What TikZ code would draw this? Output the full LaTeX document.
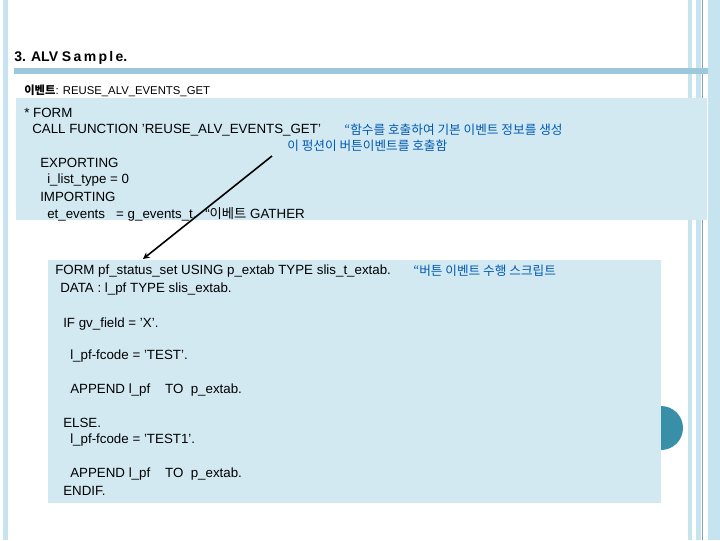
\documentclass[tikz,border=0pt]{standalone}
\usepackage{fontspec}
\setmainfont{Liberation Sans}
\newfontfamily\kr{Noto Sans CJK KR}
\newcommand\q{\char"27\relax}
\definecolor{dot}{RGB}{58,143,168}
\begin{document}
\begin{tikzpicture}[x=0.75pt,y=-0.75pt,
  txt/.style={anchor=west,inner sep=0pt,font=\fontsize{10}{11}\selectfont},
  kit/.style={txt,text=blue!50!cyan!70!black,font=\fontsize{9.5}{11}\kr\itshape}]
\useasboundingbox (0,0) rectangle (720,540);
\fill[white] (0,0) rectangle (720,540);
\fill[gray!40!cyan!30] (3,0) rectangle (8,540);
\fill[gray!40!cyan!30] (688,0) rectangle (692,540);
\fill[gray!40!cyan!30] (696,0) rectangle (701,540);
\fill[cyan!40!black!60] (701.5,0) rectangle (702.5,540);
\fill[gray!40!cyan!30] (708,0) rectangle (720,540);
\fill[cyan!50!gray!60] (14,68) rectangle (708,74);
\fill[cyan!15!white!90!gray] (16,98) rectangle (707,220);
\fill[cyan!15!white!90!gray] (48,260) rectangle (661,503);
\fill[dot] (661,450) arc (90:-90:22) -- cycle;
\node[txt,font=\bfseries\fontsize{10.5}{12}\selectfont] (t) at (14,58) {3. ALV S\,a\,m\,p\,l\,e.};
\node[txt,font=\fontsize{8.5}{10}\selectfont] (e) at (24,91) {{\kr\bfseries 이벤트}: REUSE\_ALV\_EVENTS\_GET};
\node[txt] (a1) at (24,113) {* FORM};
\node[txt] (a2) at (32,130) {CALL FUNCTION \q REUSE\_ALV\_EVENTS\_GET\q};
\node[kit] (k1) at (344,130) {“함수를 호출하여 기본 이벤트 정보를 생성};
\node[kit] (k2) at (287,146) {이 펑션이 버튼이벤트를 호출함};
\node[txt] (a3) at (40,163) {EXPORTING};
\node[txt] (a4) at (47,180) {i\_list\_type = 0};
\node[txt] (a5) at (40,197) {IMPORTING};
\node[txt] (a6) at (47,214) {et\_events \ \ = g\_events\_t. \ “{\kr 이베트} GATHER};
\node[txt] (b1) at (55,271) {FORM pf\_status\_set USING p\_extab TYPE slis\_t\_extab.};
\node[kit] (k3) at (413,271) {“버튼 이벤트 수행 스크립트};
\node[txt] (b2) at (60,289) {DATA : l\_pf TYPE slis\_extab.};
\node[txt] (b3) at (63,324) {IF gv\_field = \q X\q.};
\node[txt] (b4) at (70,356) {l\_pf-fcode = \q TEST\q.};
\node[txt] (b5) at (70,390) {APPEND l\_pf \ \ \ TO \ p\_extab.};
\node[txt] (b6) at (63,423) {ELSE.};
\node[txt] (b7) at (70,440) {l\_pf-fcode = \q TEST1\q.};
\node[txt] (b8) at (70,474) {APPEND l\_pf \ \ \ TO \ p\_extab.};
\node[txt] (b9) at (63,491) {ENDIF.};
\coordinate (s) at (272,156);
\coordinate (d) at (143,259);
\draw[line width=1.2pt,-stealth] (s) -- (d);
\end{tikzpicture}
\end{document}
